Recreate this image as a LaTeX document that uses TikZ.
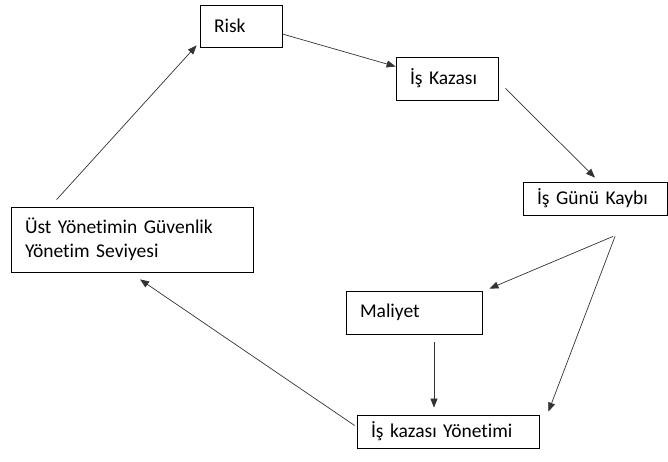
\documentclass[tikz,border=0pt]{standalone}
\usepackage{fontspec}
\setmainfont{Carlito}[Ligatures=NoCommon,WordSpace=0.7]
\usetikzlibrary{arrows.meta}
\begin{document}
\begin{tikzpicture}[x=1pt,y=-1pt,
    box/.style={draw,line width=0.8pt,inner xsep=14pt,inner ysep=0pt,align=left,
      font=\fontsize{19.5}{24}\selectfont},
    arr/.style={-{Triangle[length=9pt,width=7pt]},line width=0.7pt,black!80}]
        \useasboundingbox (0,0) rectangle (668,461);
        \node[box,text width=54pt,minimum height=42pt] (risk) at (241,26) {Risk};
        \node[box,text width=74pt,minimum height=43pt] (kaza) at (447,78.5) {İş Kazası};
        \node[box,text width=116pt,minimum height=33pt] (gunu) at (595,198.5) {İş Günü Kaybı};
        \node[box,text width=108pt,minimum height=43pt] (maliyet) at (414,312.5) {Maliyet};
        \node[box,text width=154pt,minimum height=33pt] (yonetim) at (448,431.5) {İş kazası Yönetimi};
        \node[box,text width=214pt,minimum height=65pt] (ust) at (132,239.5) {Üst Yönetimin Güvenlik\\Yönetim Seviyesi};
        \draw[arr] ([yshift=-8pt]risk.east) -- ([yshift=12pt]kaza.west);
        \draw[arr] ([xshift=7pt,yshift=12pt]kaza.south east) -- ([yshift=4pt]gunu.north);
        \draw[arr] ([xshift=18pt,yshift=-21pt]gunu.south) -- ([xshift=7pt,yshift=2pt]maliyet.north east);
        \draw[arr] ([xshift=20pt,yshift=-21pt]gunu.south) -- ([xshift=9pt,yshift=3pt]yonetim.north east);
        \draw[arr] ([xshift=20pt,yshift=-8pt]maliyet.south) -- ([xshift=-14pt,yshift=7pt]yonetim.north);
        \draw[arr] ([xshift=-2pt,yshift=6pt]yonetim.west) -- ([xshift=8pt,yshift=-7pt]ust.south);
        \draw[arr] ([xshift=46pt,yshift=7pt]ust.north west) -- ([xshift=-3pt,yshift=2pt]risk.south west);
      \end{tikzpicture}
\end{document}
